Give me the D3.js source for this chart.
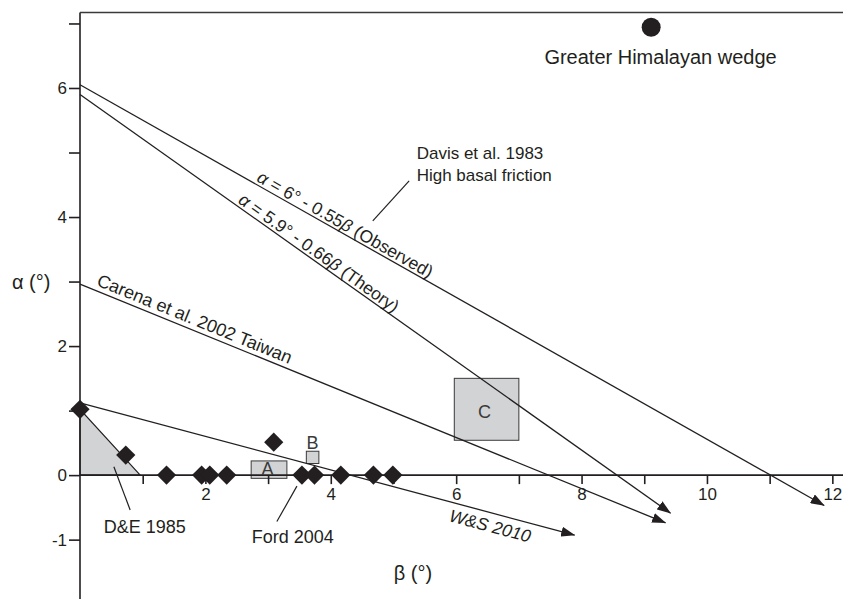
<!DOCTYPE html>
<html><head><meta charset="utf-8">
<script src="https://cdn.jsdelivr.net/npm/d3@7"></script>
<style>body{margin:0;background:#fff} svg{display:block}</style>
</head><body><svg id="c" width="843" height="599"></svg>
<script>
// ---- data ----
const xTicks = [1,2,3,4,5,6,7,8,9,10,11,12];
const xTickLabels = [2,4,6,8,10,12];
const yTicks = [-1,0,1,2,3,4,5,6,7];
const yTickLabels = [-1,0,2,4,6];

const diamondBeta  = [0, 0.73, 1.38, 1.94, 2.07, 2.34, 3.09, 3.54, 3.74, 4.16, 4.68, 4.99];
const diamondAlpha = [1.02, 0.31, 0, 0, 0, 0, 0.51, 0, 0, 0, 0, 0];

const lineNames  = ["Observed", "Theory", "Carena", "WS"];
const lineStart  = [[0, 6.05], [0, 5.9], [0, 2.96], [0, 1.12]];
const lineEnd    = [[11.87, -0.47], [9.42, -0.59], [9.34, -0.74], [7.89, -0.93]];

const boxNames  = ["A", "B", "C"];
const boxBeta0  = [2.73, 3.61, 5.97];
const boxBeta1  = [3.30, 3.81, 7.0];
const boxAlpha0 = [-0.05, 0.18, 0.54];
const boxAlpha1 = [0.22, 0.37, 1.5];
const boxLabelPos = [[2.99, 0.0], [3.71, 0.41], [6.45, 0.89]];

const deTriangle = [[0, 1.02], [0, 0], [0.96, 0]];
const himalaya = [9.11, 6.94];

// annotations
const noteDavis  = ["Davis et al. 1983", "High basal friction"];
const noteDavisPos = [5.37, 4.9];
const noteDavisLeader = [[5.25, 4.56], [4.67, 3.94]];
const noteDE = "D&E 1985", noteDEPos = [0.38, -0.89], noteDELeader = [[0.54, 0.13], [0.80, -0.54]];
const noteFord = "Ford 2004", noteFordPos = [2.74, -1.05], noteFordLeader = [[3.46, -0.17], [3.14, -0.72]];
const noteHima = "Greater Himalayan wedge", noteHimaPos = [9.26, 6.37];

// ---- drawing ----
const W = 843, H = 599;
const svg = d3.select("#c");
const ink = "#231f20";
const FONT = "'Liberation Sans', Arial, Helvetica, sans-serif";
const x = d3.scaleLinear().domain([0, 12.17]).range([80, 843]);
const y = d3.scaleLinear().domain([-1.92, 7.17]).range([599, 12.5]);

svg.append("rect").attr("width", W).attr("height", H).attr("fill", "#fff");

const defs = svg.append("defs");
defs.append("marker").attr("id", "arr")
  .attr("viewBox", "0 0 14 10").attr("refX", 13.5).attr("refY", 5)
  .attr("markerWidth", 14).attr("markerHeight", 10)
  .attr("markerUnits", "userSpaceOnUse").attr("orient", "auto")
  .append("path").attr("d", "M0,0 L14,5 L0,10 Z").attr("fill", ink);

// D&E triangle
svg.append("path")
  .attr("d", d3.line().x(d => x(d[0])).y(d => y(d[1]))(deTriangle) + "Z")
  .attr("fill", "#d1d3d4").attr("stroke", ink).attr("stroke-width", 1.2);

// boxes
boxNames.forEach((n, i) => {
  svg.append("rect")
    .attr("x", x(boxBeta0[i])).attr("y", y(boxAlpha1[i]))
    .attr("width", x(boxBeta1[i]) - x(boxBeta0[i]))
    .attr("height", y(boxAlpha0[i]) - y(boxAlpha1[i]))
    .attr("fill", "#d1d3d4").attr("stroke", "#3a3a3a").attr("stroke-width", 1);
});

// axes
const gx = svg.append("g").attr("transform", `translate(0,${y(0)})`)
  .call(d3.axisBottom(x).tickValues(xTicks).tickSize(9).tickPadding(4)
    .tickFormat(d => xTickLabels.includes(d) ? d : ""));
gx.select(".domain").attr("d", `M${x(0)},0H${W}`);
const gy = svg.append("g").attr("transform", `translate(${x(0)},0)`)
  .call(d3.axisLeft(y).tickValues(yTicks).tickSize(11).tickPadding(2)
    .tickFormat(d => yTickLabels.includes(d) ? String(d).replace("−", "-") : ""));
gy.select(".domain").attr("d", `M0,${y(7.17)}V${H}`);
[gx, gy].forEach(g => {
  g.selectAll("path,line").attr("stroke", ink).attr("stroke-width", 1.6);
  g.selectAll("text").attr("font-family", FONT).attr("font-size", 17).attr("fill", ink);
});
// top frame
svg.append("line").attr("x1", x(0)).attr("x2", W).attr("y1", y(7.17)).attr("y2", y(7.17))
  .attr("stroke", "#3a3a3a").attr("stroke-width", 1.6);

// trend lines
lineNames.forEach((n, i) => {
  svg.append("line")
    .attr("x1", x(lineStart[i][0])).attr("y1", y(lineStart[i][1]))
    .attr("x2", x(lineEnd[i][0])).attr("y2", y(lineEnd[i][1]))
    .attr("stroke", ink).attr("stroke-width", 1.3)
    .attr("marker-end", "url(#arr)");
});

// labels along lines
function alongLabel(i, beta, dy, size, style, parts) {
  const x0 = x(lineStart[i][0]), y0 = y(lineStart[i][1]);
  const x1 = x(lineEnd[i][0]), y1 = y(lineEnd[i][1]);
  const ang = Math.atan2(y1 - y0, x1 - x0) * 180 / Math.PI;
  const t = (beta - lineStart[i][0]) / (lineEnd[i][0] - lineStart[i][0]);
  const px = x0 + t * (x1 - x0), py = y0 + t * (y1 - y0);
  const txt = svg.append("text")
    .attr("transform", `translate(${px},${py}) rotate(${ang})`)
    .attr("dy", dy).attr("font-family", FONT).attr("font-size", size)
    .attr("font-style", style).attr("fill", ink);
  parts.forEach(p => txt.append("tspan").text(p[0]).attr("font-style", p[1] ? "italic" : null));
}
alongLabel(0, 2.78, -3, 17.5, "normal", [["α", 1], [" = 6° - 0.55", 0], ["β", 1], [" (Observed)", 0]]);
alongLabel(1, 2.48, -3, 17.5, "normal", [["α", 1], [" = 5.9° - 0.66", 0], ["β", 1], [" (Theory)", 0]]);
alongLabel(2, 0.22, -5, 18, "normal", [["Carena et al. 2002 Taiwan", 0]]);
alongLabel(3, 5.95, 19, 17.5, "italic", [["W&S 2010", 0]]);

// diamonds
const sym = d3.symbol().type(d3.symbolSquare).size(185);
diamondBeta.forEach((b, i) => {
  svg.append("path").attr("d", sym())
    .attr("transform", `translate(${x(b)},${y(diamondAlpha[i])}) rotate(45)`)
    .attr("fill", ink);
});

// box labels
boxNames.forEach((n, i) => {
  svg.append("text").attr("x", x(boxLabelPos[i][0])).attr("y", y(boxLabelPos[i][1]))
    .attr("text-anchor", "middle").attr("font-family", FONT).attr("font-size", 18)
    .attr("fill", "#3a3a3a").text(n);
});

// Greater Himalayan wedge
svg.append("circle").attr("cx", x(himalaya[0])).attr("cy", y(himalaya[1])).attr("r", 9.5).attr("fill", ink);
svg.append("text").attr("x", x(noteHimaPos[0])).attr("y", y(noteHimaPos[1]))
  .attr("text-anchor", "middle").attr("font-family", FONT).attr("font-size", 20)
  .attr("fill", ink).text(noteHima);

// notes
function leader(pts) {
  svg.append("line").attr("x1", x(pts[0][0])).attr("y1", y(pts[0][1]))
    .attr("x2", x(pts[1][0])).attr("y2", y(pts[1][1]))
    .attr("stroke", ink).attr("stroke-width", 1.2);
}
const dv = svg.append("text").attr("font-family", FONT).attr("font-size", 17).attr("fill", ink);
noteDavis.forEach((s, k) => dv.append("tspan").attr("x", x(noteDavisPos[0]))
  .attr("y", y(noteDavisPos[1]) + k * 22).text(s));
leader(noteDavisLeader);
svg.append("text").attr("x", x(noteDEPos[0])).attr("y", y(noteDEPos[1]))
  .attr("font-family", FONT).attr("font-size", 18).attr("fill", ink).text(noteDE);
leader(noteDELeader);
svg.append("text").attr("x", x(noteFordPos[0])).attr("y", y(noteFordPos[1]))
  .attr("font-family", FONT).attr("font-size", 18).attr("fill", ink).text(noteFord);
leader(noteFordLeader);

// axis titles
svg.append("text").attr("x", 12).attr("y", 289).attr("font-family", FONT)
  .attr("font-size", 20).attr("fill", ink).text("α (°)");
svg.append("text").attr("x", 413).attr("y", 580).attr("text-anchor", "middle")
  .attr("font-family", FONT).attr("font-size", 20).attr("fill", ink).text("β (°)");
</script>
</body></html>
